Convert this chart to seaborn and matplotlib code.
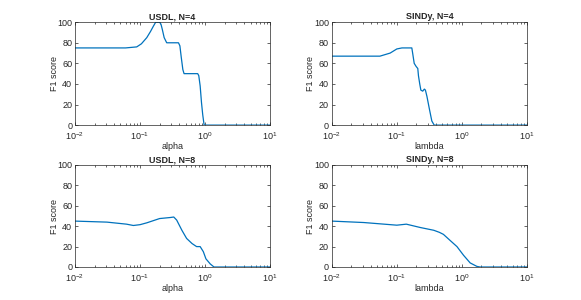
import numpy as np
import pandas as pd
import seaborn as sns
from matplotlib import pyplot as plt
from matplotlib.ticker import LogLocator, NullFormatter

# values
usdl4_x = [0.01, 0.06, 0.089, 0.105, 0.127, 0.145, 0.16, 0.174, 0.2, 0.21, 0.22, 0.235, 0.257,
           0.3, 0.39, 0.41, 0.43, 0.455, 0.475, 0.6, 0.77, 0.8, 0.84, 0.88, 0.92, 0.966, 1.2, 10]
usdl4_y = [75, 75, 76, 79, 85, 91, 96, 100, 100, 98, 93, 85, 80,
           80, 80, 77, 66, 54, 50, 50, 50, 48, 38, 22, 10, 0, 0, 0]

sindy4_x = [0.01, 0.055, 0.079, 0.1, 0.12, 0.17, 0.175, 0.185, 0.198, 0.21, 0.215, 0.225, 0.234,
            0.25, 0.265, 0.275, 0.29, 0.318, 0.345, 0.375, 0.5, 10]
sindy4_y = [67, 67, 70, 74, 75, 75, 70, 60, 57, 55, 48, 40, 34,
            33, 35, 34, 28, 15, 4, 0, 0, 0]

usdl8_x = [0.01, 0.031, 0.062, 0.079, 0.1, 0.127, 0.2, 0.29, 0.33, 0.366, 0.44, 0.52, 0.63,
           0.74, 0.84, 0.94, 1.03, 1.2, 1.37, 2.0, 10]
usdl8_y = [45, 44, 42, 40.7, 41.5, 43.3, 47.5, 48.5, 49, 46, 36, 28, 23,
           20, 20, 15, 8, 3, 0, 0, 0]

sindy8_x = [0.01, 0.031, 0.1, 0.14, 0.23, 0.37, 0.45, 0.52, 0.66, 0.84, 1.06, 1.34, 1.7, 1.9, 10]
sindy8_y = [45, 43.6, 41, 42, 38.7, 36, 34, 32, 26, 20, 11.5, 4, 0.6, 0, 0]

titles = ["USDL, N=4", "SINDy, N=4", "USDL, N=8", "SINDy, N=8"]
xlabels = ["alpha", "lambda", "alpha", "lambda"]
series = [(usdl4_x, usdl4_y), (sindy4_x, sindy4_y), (usdl8_x, usdl8_y), (sindy8_x, sindy8_y)]

sns.set_style("ticks")
plt.rcParams['font.family'] = ['Liberation Sans', 'DejaVu Sans']
plt.rcParams['mathtext.default'] = 'regular'
plt.rcParams['font.size'] = 6.5

fig = plt.figure(figsize=(5.81, 3.0), dpi=100)
positions = [[0.129, 0.583, 0.336, 0.343], [0.571, 0.583, 0.336, 0.343],
             [0.129, 0.11, 0.336, 0.34], [0.571, 0.11, 0.336, 0.34]]

for pos, (xs, ys), title, xl in zip(positions, series, titles, xlabels):
    ax = fig.add_axes(pos)
    df = pd.DataFrame({"x": xs, "y": ys})
    sns.lineplot(data=df, x="x", y="y", ax=ax, color="#0072BD", linewidth=0.9, estimator=None)
    ax.set_xscale("log")
    ax.set_xlim(0.01, 10)
    ax.set_ylim(0, 100)
    ax.set_yticks([0, 20, 40, 60, 80, 100])
    ax.xaxis.set_major_locator(LogLocator(base=10, numticks=10))
    ax.xaxis.set_minor_locator(LogLocator(base=10, subs=np.arange(2, 10), numticks=10))
    ax.xaxis.set_minor_formatter(NullFormatter())
    ax.tick_params(which="both", direction="in", top=True, right=True, labelsize=6.5,
                   width=0.5, color="#262626", pad=2)
    ax.tick_params(axis="x", which="major", pad=4)
    ax.tick_params(which="major", length=2.5)
    ax.tick_params(which="minor", length=1.5)
    for s in ax.spines.values():
        s.set_linewidth(0.5)
        s.set_color("#262626")
    ax.set_title(title, fontsize=6.5, fontweight="bold", pad=2)
    ax.set_xlabel(xl, fontsize=6.5, labelpad=0)
    ax.set_ylabel("F1 score", fontsize=6.5, labelpad=-1)

fig.savefig("out.png", dpi=100)
